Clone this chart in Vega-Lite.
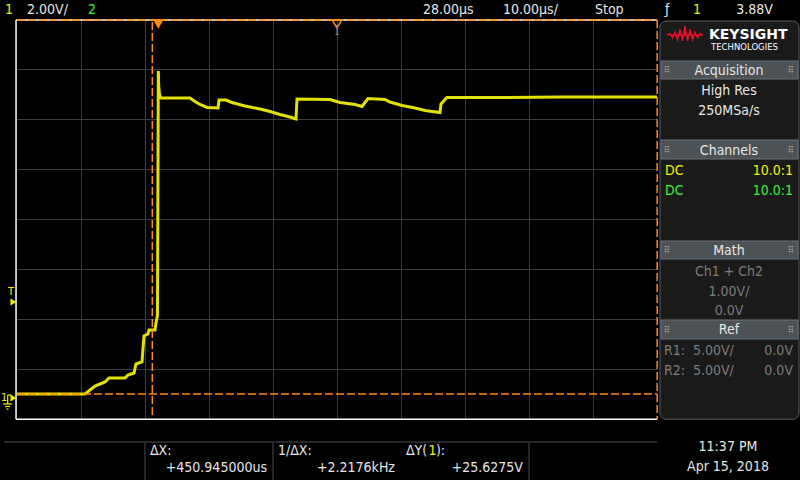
{
  "$schema": "https://vega.github.io/schema/vega-lite/v6.json",
  "width": 640,
  "height": 400,
  "autosize": {"type": "none"},
  "padding": {"left": 17, "top": 19, "right": 143, "bottom": 61},
  "background": "#000000",
  "config": {
    "view": {"stroke": null},
    "text": {"font": "DejaVu Sans Condensed, Liberation Sans Narrow, Roboto, DejaVu Sans", "fontSize": 14, "baseline": "alphabetic"}
  },
  "datasets": {
    "trace": [
      {"t": -22, "v": 0.12}, {"t": -11.375, "v": 0.12}, {"t": -10.59, "v": 0.28}, {"t": -9.81, "v": 0.44},
      {"t": -9.03, "v": 0.52}, {"t": -8.25, "v": 0.6}, {"t": -7.63, "v": 0.76}, {"t": -5.13, "v": 0.76},
      {"t": -4.66, "v": 0.88}, {"t": -3.72, "v": 0.96}, {"t": -3.41, "v": 1.32}, {"t": -2.47, "v": 1.4},
      {"t": -2.16, "v": 2.44}, {"t": -1.53, "v": 2.52}, {"t": -1.38, "v": 2.68}, {"t": -0.44, "v": 2.68},
      {"t": -0.28, "v": 2.96}, {"t": -0.05, "v": 3.28}, {"t": 0.08, "v": 13.04}, {"t": 0.14, "v": 12.44},
      {"t": 0.27, "v": 12.08}, {"t": 0.5, "v": 11.96}, {"t": 5.03, "v": 11.96}, {"t": 5.81, "v": 11.82},
      {"t": 6.59, "v": 11.7}, {"t": 7.69, "v": 11.58}, {"t": 9.41, "v": 11.56}, {"t": 9.56, "v": 11.88},
      {"t": 10.66, "v": 11.88}, {"t": 11.59, "v": 11.78}, {"t": 13.63, "v": 11.64}, {"t": 15.97, "v": 11.52},
      {"t": 17.53, "v": 11.42}, {"t": 19.09, "v": 11.3}, {"t": 20.66, "v": 11.2}, {"t": 21.59, "v": 11.12},
      {"t": 21.75, "v": 11.92}, {"t": 26.91, "v": 11.9}, {"t": 28.47, "v": 11.78}, {"t": 30.81, "v": 11.7},
      {"t": 31.91, "v": 11.62}, {"t": 32.84, "v": 11.94}, {"t": 35.5, "v": 11.9}, {"t": 36.28, "v": 11.8},
      {"t": 38.16, "v": 11.66}, {"t": 40.19, "v": 11.56}, {"t": 41.75, "v": 11.46}, {"t": 44.09, "v": 11.38},
      {"t": 44.25, "v": 11.72}, {"t": 44.88, "v": 11.9}, {"t": 45.19, "v": 11.98}, {"t": 53.47, "v": 11.98},
      {"t": 62.84, "v": 12.0}, {"t": 70.66, "v": 12.0}, {"t": 78, "v": 12.0}
    ],
    "hticks": [
      {"t": -19.5}, {"t": -17}, {"t": -14.5}, {"t": -9.5}, {"t": -7}, {"t": -4.5}, {"t": 0.5}, {"t": 3},
      {"t": 5.5}, {"t": 10.5}, {"t": 13}, {"t": 15.5}, {"t": 20.5}, {"t": 23}, {"t": 25.5}, {"t": 30.5},
      {"t": 33}, {"t": 35.5}, {"t": 40.5}, {"t": 43}, {"t": 45.5}, {"t": 50.5}, {"t": 53}, {"t": 55.5},
      {"t": 60.5}, {"t": 63}, {"t": 65.5}, {"t": 70.5}, {"t": 73}, {"t": 75.5}
    ],
    "vticks": [
      {"v": -0.48}, {"v": -0.08}, {"v": 0.32}, {"v": 0.72}, {"v": 1.52}, {"v": 1.92}, {"v": 2.32}, {"v": 2.72},
      {"v": 3.52}, {"v": 3.92}, {"v": 4.32}, {"v": 4.72}, {"v": 5.52}, {"v": 5.92}, {"v": 6.32}, {"v": 6.72},
      {"v": 7.52}, {"v": 7.92}, {"v": 8.32}, {"v": 8.72}, {"v": 9.52}, {"v": 9.92}, {"v": 10.32}, {"v": 10.72},
      {"v": 11.52}, {"v": 11.92}, {"v": 12.32}, {"v": 12.72}, {"v": 13.52}, {"v": 13.92}, {"v": 14.32}, {"v": 14.72}
    ],
    "panel": [{"t": 78.47, "t2": 100.19, "v": 15.04, "v2": -0.89}],
    "headers": [
      {"t": 78.63, "t2": 100.03, "v": 13.44, "v2": 12.72},
      {"t": 78.63, "t2": 100.03, "v": 10.28, "v2": 9.52},
      {"t": 78.63, "t2": 100.03, "v": 6.24, "v2": 5.52},
      {"t": 78.63, "t2": 100.03, "v": 3.08, "v2": 2.32}
    ],
    "separators": [
      {"t": -24.03, "t2": 78, "v": -1.8, "v2": -1.8},
      {"t": -2, "t2": -2, "v": -1.84, "v2": -3.4},
      {"t": 18, "t2": 18, "v": -1.84, "v2": -3.4},
      {"t": 58, "t2": 58, "v": -1.84, "v2": -3.4}
    ],
    "whiteBorders": [
      {"t": -22.15, "t2": -22.15, "v": -0.89, "v2": 15.08},
      {"t": -22.15, "t2": 78, "v": -0.89, "v2": -0.89},
      {"t": -22.15, "t2": 78, "v": 15.08, "v2": 15.08}
    ],
    "orangeDashed": [
      {"t": -22, "t2": 78, "v": 15.08, "v2": 15.08},
      {"t": 78.03, "t2": 78.03, "v": 15.08, "v2": -0.89},
      {"t": -0.86, "t2": -0.86, "v": 15.0, "v2": -0.85},
      {"t": -22, "t2": 78, "v": 0.12, "v2": 0.12}
    ],
    "groundGlyph": [
      {"t": -23.45, "t2": -23.45, "v": 0.08, "v2": -0.28},
      {"t": -23.45, "t2": -22.9, "v": 0.08, "v2": 0.08},
      {"t": -24.19, "t2": -22.78, "v": -0.28, "v2": -0.28},
      {"t": -23.87, "t2": -23.09, "v": -0.38, "v2": -0.38},
      {"t": -23.64, "t2": -23.33, "v": -0.48, "v2": -0.48}
    ],
    "trigMarker": [{"t": 0.08, "v": 14.92}],
    "centerMarker": [{"t": 28, "v": 14.92}],
    "levelMarkers": [{"t": -22.55, "v": 3.8}, {"t": -22.55, "v": -0.04}],
    "logo": [
      {"t": 79.56, "v": 14.48}, {"t": 80.03, "v": 14.54}, {"t": 80.42, "v": 14.36}, {"t": 80.81, "v": 14.6},
      {"t": 81.2, "v": 14.28}, {"t": 81.59, "v": 14.72}, {"t": 81.98, "v": 14.24}, {"t": 82.375, "v": 14.86},
      {"t": 82.77, "v": 14.24}, {"t": 83.16, "v": 14.72}, {"t": 83.55, "v": 14.28}, {"t": 83.94, "v": 14.6},
      {"t": 84.33, "v": 14.36}, {"t": 84.72, "v": 14.54}, {"t": 85.19, "v": 14.48}
    ],
    "textL": [
      {"t": -23.875, "v": 15.32, "s": "1", "c": "ch1"},
      {"t": -20.44, "v": 15.32, "s": "2.00V/", "c": "ui"},
      {"t": -10.91, "v": 15.32, "s": "2", "c": "ch2"},
      {"t": 41.44, "v": 15.32, "s": "28.00µs", "c": "ui"},
      {"t": 53.94, "v": 15.32, "s": "10.00µs/", "c": "ui"},
      {"t": 68.31, "v": 15.32, "s": "Stop", "c": "ui"},
      {"t": 79.25, "v": 15.32, "s": "ƒ", "c": "ui"},
      {"t": 83.62, "v": 15.32, "s": "1", "c": "ch1"},
      {"t": 79.25, "v": 8.88, "s": "DC", "c": "ch1"},
      {"t": 79.25, "v": 8.08, "s": "DC", "c": "ch2"},
      {"t": 79.09, "v": 1.68, "s": "R1:", "c": "off"},
      {"t": 83.62, "v": 1.68, "s": "5.00V/", "c": "off"},
      {"t": 79.09, "v": 0.88, "s": "R2:", "c": "off"},
      {"t": 83.62, "v": 0.88, "s": "5.00V/", "c": "off"},
      {"t": -1.22, "v": -2.32, "s": "ΔX:", "c": "ui"},
      {"t": 18.78, "v": -2.32, "s": "1/ΔX:", "c": "ui"},
      {"t": 38.78, "v": -2.32, "s": "ΔY(", "c": "ui"},
      {"t": 42.3, "v": -2.32, "s": "1", "c": "ch1"},
      {"t": 43.45, "v": -2.32, "s": "):", "c": "ui"}
    ],
    "textR": [
      {"t": 96.12, "v": 15.32, "s": "3.88V", "c": "ui"},
      {"t": 99.25, "v": 8.88, "s": "10.0:1", "c": "ch1"},
      {"t": 99.25, "v": 8.08, "s": "10.0:1", "c": "ch2"},
      {"t": 99.25, "v": 1.68, "s": "0.0V", "c": "off"},
      {"t": 99.25, "v": 0.88, "s": "0.0V", "c": "off"},
      {"t": 17.06, "v": -3.0, "s": "+450.945000us", "c": "ui"},
      {"t": 37.06, "v": -3.0, "s": "+2.2176kHz", "c": "ui"},
      {"t": 57.06, "v": -3.0, "s": "+25.6275V", "c": "ui"}
    ],
    "textC": [
      {"t": 89.25, "v": 12.88, "s": "Acquisition", "c": "ui"},
      {"t": 89.25, "v": 12.08, "s": "High Res", "c": "ui"},
      {"t": 89.25, "v": 11.28, "s": "250MSa/s", "c": "ui"},
      {"t": 89.25, "v": 9.68, "s": "Channels", "c": "ui"},
      {"t": 89.25, "v": 5.68, "s": "Math", "c": "ui"},
      {"t": 89.25, "v": 4.84, "s": "Ch1 + Ch2", "c": "off"},
      {"t": 89.25, "v": 4.04, "s": "1.00V/", "c": "off"},
      {"t": 89.25, "v": 3.28, "s": "0.0V", "c": "off"},
      {"t": 89.25, "v": 2.52, "s": "Ref", "c": "ui"},
      {"t": 89.09, "v": -2.16, "s": "11:37 PM", "c": "ui"},
      {"t": 89.09, "v": -2.96, "s": "Apr 15, 2018", "c": "ui"}
    ],
    "smallMarks": [
      {"t": -23.4, "v": 4.08, "s": "T", "c": "ch1"},
      {"t": -24.5, "v": -0.16, "s": "1", "c": "ch1"}
    ],
    "dots": [
      {"t": 79.56, "v": 13.08}, {"t": 98.94, "v": 13.08},
      {"t": 79.56, "v": 9.9}, {"t": 98.94, "v": 9.9},
      {"t": 79.56, "v": 5.88}, {"t": 98.94, "v": 5.88},
      {"t": 79.56, "v": 2.7}, {"t": 98.94, "v": 2.7}
    ],
    "brand": [{"t": 86.11, "v": 14.32, "s": "KEYSIGHT"}],
    "brandSub": [{"t": 86.44, "v": 13.88, "s": "TECHNOLOGIES"}],
    "ibeam": [{"t": 28, "v": 14.5, "s": "I"}]
  },
  "encoding": {
    "x": {
      "field": "t", "type": "quantitative",
      "scale": {"domain": [-22, 78], "nice": false, "zero": false},
      "axis": {"values": [-12, -2, 8, 18, 28, 38, 48, 58, 68], "grid": true, "gridColor": "#3c3c3c", "gridWidth": 1, "domain": false, "ticks": false, "labels": false, "title": null}
    },
    "y": {
      "field": "v", "type": "quantitative",
      "scale": {"domain": [-0.88, 15.12], "nice": false, "zero": false},
      "axis": {"values": [1.12, 3.12, 5.12, 7.12, 9.12, 11.12, 13.12], "grid": true, "gridColor": "#3c3c3c", "gridWidth": 1, "domain": false, "ticks": false, "labels": false, "title": null}
    }
  },
  "layer": [
    {"data": {"name": "panel"}, "mark": {"type": "rect", "fill": "#1a1a1a", "stroke": "#5c5c5c", "strokeWidth": 1, "cornerRadius": 6},
     "encoding": {"x2": {"field": "t2"}, "y2": {"field": "v2"}}},
    {"data": {"name": "headers"}, "mark": {"type": "rect", "fill": "#4d5256", "stroke": "#6c7175", "strokeWidth": 1},
     "encoding": {"x2": {"field": "t2"}, "y2": {"field": "v2"}}},
    {"data": {"name": "separators"}, "mark": {"type": "rule", "color": "#4e4e4e", "strokeWidth": 1},
     "encoding": {"x2": {"field": "t2"}, "y2": {"field": "v2"}}},
    {"data": {"name": "hticks"}, "mark": {"type": "tick", "orient": "vertical", "size": 6, "thickness": 1, "color": "#555555"},
     "encoding": {"y": {"datum": 7.12}}},
    {"data": {"name": "vticks"}, "mark": {"type": "tick", "orient": "horizontal", "size": 6, "thickness": 1, "color": "#555555"},
     "encoding": {"x": {"datum": 28}}},
    {"data": {"name": "whiteBorders"}, "mark": {"type": "rule", "color": "#ffffff", "strokeWidth": 1.5},
     "encoding": {"x2": {"field": "t2"}, "y2": {"field": "v2"}}},
    {"data": {"name": "trace"}, "mark": {"type": "line", "color": "#e2e200", "strokeWidth": 3, "strokeJoin": "miter"}},
    {"data": {"name": "orangeDashed"}, "mark": {"type": "rule", "color": "#ff8a10", "strokeWidth": 1.5, "strokeDash": [8, 3]},
     "encoding": {"x2": {"field": "t2"}, "y2": {"field": "v2"}}},
    {"data": {"name": "groundGlyph"}, "mark": {"type": "rule", "color": "#f0f000", "strokeWidth": 1.2},
     "encoding": {"x2": {"field": "t2"}, "y2": {"field": "v2"}}},
    {"data": {"name": "trigMarker"}, "mark": {"type": "point", "shape": "triangle-down", "filled": true, "size": 120, "color": "#ff8a10", "opacity": 1}},
    {"data": {"name": "centerMarker"}, "mark": {"type": "point", "shape": "triangle-down", "filled": false, "size": 90, "color": "#ff8a10", "strokeWidth": 1.5, "opacity": 1}},
    {"data": {"name": "levelMarkers"}, "mark": {"type": "point", "shape": "triangle-right", "filled": true, "size": 50, "color": "#f0f000", "opacity": 1}},
    {"data": {"name": "logo"}, "mark": {"type": "area", "color": "#e8102a", "stroke": "#e8102a", "strokeWidth": 1.2},
     "encoding": {"y2": {"datum": 14.48}}},
    {"data": {"name": "ibeam"}, "mark": {"type": "text", "font": "DejaVu Serif", "fontSize": 12, "color": "#8a8a8a", "align": "center"},
     "encoding": {"text": {"field": "s"}}},
    {"data": {"name": "brand"}, "mark": {"type": "text", "font": "DejaVu Sans", "fontWeight": "bold", "fontSize": 14, "color": "#ffffff", "align": "left"},
     "encoding": {"text": {"field": "s"}}},
    {"data": {"name": "brandSub"}, "mark": {"type": "text", "font": "DejaVu Sans", "fontSize": 8.5, "color": "#ffffff", "align": "left"},
     "encoding": {"text": {"field": "s"}}},
    {"data": {"name": "dots"}, "mark": {"type": "text", "font": "DejaVu Sans", "fontSize": 9, "color": "#b4b4b4", "align": "center", "baseline": "middle", "text": "⠿"}},
    {"data": {"name": "textL"}, "mark": {"type": "text", "align": "left"},
     "encoding": {"text": {"field": "s"}, "color": {"field": "c", "type": "nominal", "scale": {"domain": ["ui", "ch1", "ch2", "off"], "range": ["#e6e6e6", "#f0f000", "#3cf03c", "#7a7a7a"]}, "legend": null}}},
    {"data": {"name": "textR"}, "mark": {"type": "text", "align": "right"},
     "encoding": {"text": {"field": "s"}, "color": {"field": "c", "type": "nominal", "legend": null}}},
    {"data": {"name": "textC"}, "mark": {"type": "text", "align": "center"},
     "encoding": {"text": {"field": "s"}, "color": {"field": "c", "type": "nominal", "legend": null}}},
    {"data": {"name": "smallMarks"}, "mark": {"type": "text", "align": "left", "fontSize": 11},
     "encoding": {"text": {"field": "s"}, "color": {"field": "c", "type": "nominal", "legend": null}}}
  ]
}
